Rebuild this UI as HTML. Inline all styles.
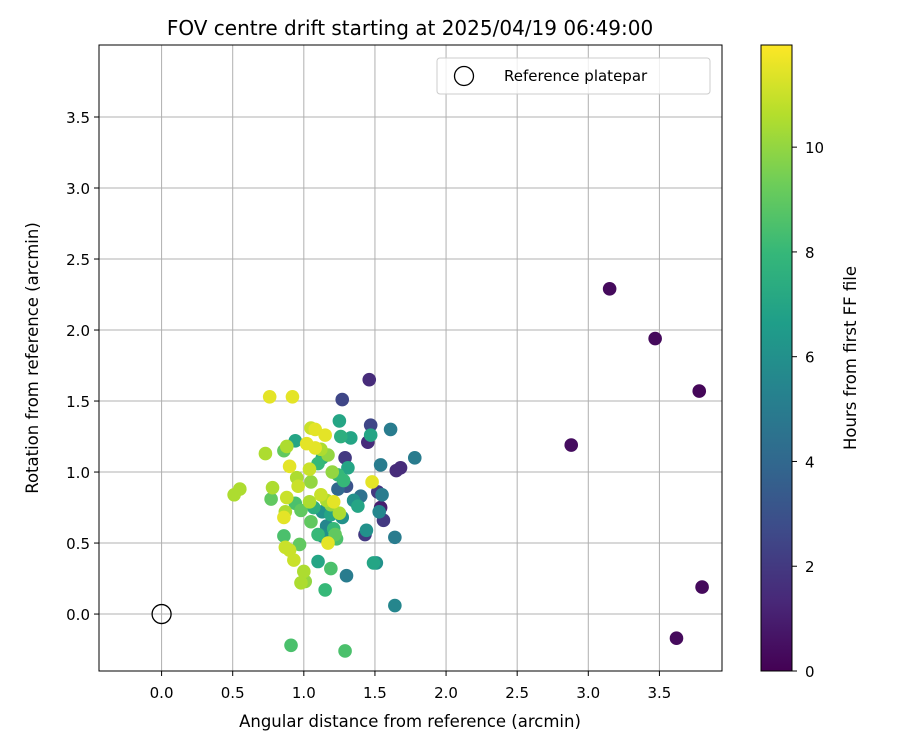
<!DOCTYPE html>
<html><head><meta charset="utf-8"><style>body{margin:0;background:#fff}svg{font-family:"DejaVu Sans","Liberation Sans",sans-serif}</style></head>
<body>
<svg id="c" width="900" height="750"></svg>
<script>
const xs=[3.15,3.47,3.78,2.88,3.80,3.62,1.46,1.27,0.76,0.92,1.47,1.25,1.61,1.45,1.47,1.33,1.26,1.29,1.54,1.78,1.65,1.68,1.08,1.05,1.15,0.94,0.86,0.88,1.02,1.08,1.12,1.17,1.10,1.13,0.73,0.90,0.55,0.51,0.78,0.77,0.95,0.96,1.04,1.05,1.20,1.24,1.28,1.31,1.35,1.40,1.30,1.24,1.48,1.52,1.55,1.54,1.53,1.56,1.38,1.44,1.43,1.64,0.88,0.87,0.86,0.94,0.98,1.04,1.07,1.12,1.16,1.19,1.21,1.13,1.19,1.25,1.27,1.16,1.21,1.22,1.23,1.17,1.05,1.10,1.13,0.86,0.90,0.87,0.93,0.97,1.10,1.19,1.30,1.15,1.00,0.98,1.01,1.64,1.49,1.51,0.91,1.29];
const ys=[2.29,1.94,1.57,1.19,0.19,-0.17,1.65,1.51,1.53,1.53,1.33,1.36,1.30,1.21,1.26,1.24,1.25,1.10,1.05,1.10,1.01,1.03,1.30,1.31,1.26,1.22,1.15,1.18,1.20,1.17,1.16,1.12,1.06,1.10,1.13,1.04,0.88,0.84,0.89,0.81,0.96,0.90,1.02,0.93,1.00,0.98,0.94,1.03,0.80,0.83,0.90,0.88,0.93,0.86,0.84,0.75,0.72,0.66,0.76,0.59,0.56,0.54,0.82,0.72,0.68,0.78,0.73,0.79,0.75,0.84,0.80,0.77,0.79,0.72,0.70,0.71,0.68,0.62,0.60,0.56,0.53,0.50,0.65,0.56,0.55,0.55,0.45,0.47,0.38,0.49,0.37,0.32,0.27,0.17,0.30,0.22,0.23,0.06,0.36,0.36,-0.22,-0.26];
const hrs=[0.3,0.3,0.2,0.4,0.3,0.3,1.5,2.5,11.5,11.5,2.5,7,5,1.5,7,7,7.5,2,5,5,1.5,1.5,11.5,11,11.5,7,9,10.5,11.5,11.5,10.5,10,8,7.5,10.5,11.5,10.5,10.5,10.5,9,10.5,11,11,10,10,8,8,7,6,4.5,3,4,11.5,2,5,1,5.5,2,7,6,2,5,11,10.5,11.5,8.5,9,10.5,7.5,11,10.5,10,11.5,6,7,10.5,6,5.5,8,9,8.5,11.5,9,8,6,8.5,11,11,11,9,7,8.5,5,8,10.5,10.5,10,5.5,7,6,8.5,8.5];
const xTicks=[0,0.5,1,1.5,2,2.5,3,3.5];
const yTicks=[0,0.5,1,1.5,2,2.5,3,3.5];
const cTicks=[0,2,4,6,8,10];
const L=99,R=722,T=45,B=671,xmin=-0.44,xmax=3.94,ymin=-0.401,ymax=4.007,cmax=11.95;
const X=v=>L+(v-xmin)/(xmax-xmin)*(R-L), Y=v=>B-(v-ymin)/(ymax-ymin)*(B-T);
const CT=45,CB=671,CY=v=>CB-v/cmax*(CB-CT);
const vir=[[68,1,84],[72,40,120],[62,74,137],[49,104,142],[38,130,142],[31,158,137],[53,183,121],[109,205,89],[180,222,44],[253,231,37]];
function col(h){let t=Math.max(0,Math.min(1,h/cmax))*9,i=Math.min(8,Math.floor(t)),f=t-i,a=vir[i],b=vir[i+1];return `rgb(${a.map((v,k)=>Math.round(v+(b[k]-v)*f)).join(',')})`;}
const s=document.getElementById('c');const NS='http://www.w3.org/2000/svg';
function el(t,a,p){const e=document.createElementNS(NS,t);for(const k in a)e.setAttribute(k,a[k]);(p||s).appendChild(e);return e;}
function tx(x,y,str,a){const e=el('text',Object.assign({x,y,'font-size':15,fill:'#000'},a));e.textContent=str;return e;}
xTicks.forEach(v=>{const g=el('line',{x1:X(v),x2:X(v),y1:T,y2:B,stroke:'#b0b0b0','stroke-width':1});

el('line',{x1:X(v),x2:X(v),y1:B,y2:B+5,stroke:'#000'});
const t=tx(X(v),B+27,v.toFixed(1),{'text-anchor':'middle'});
});
yTicks.forEach(v=>{const g=el('line',{x1:L,x2:R,y1:Y(v),y2:Y(v),stroke:'#b0b0b0','stroke-width':1});

el('line',{x1:L-5,x2:L,y1:Y(v),y2:Y(v),stroke:'#000'});
const t=tx(L-9,Y(v)+6,v.toFixed(1),{'text-anchor':'end'});
});
const idx=hrs.map((h,i)=>i).sort((a,b)=>hrs[a]-hrs[b]);
idx.forEach(i=>{const c=el('circle',{cx:X(xs[i]),cy:Y(ys[i]),r:6.8,fill:col(hrs[i])});
});
const ref=el('circle',{cx:X(0),cy:Y(0),r:9.5,fill:'none',stroke:'#000','stroke-width':1.3});

const fr=el('rect',{x:L,y:T,width:R-L,height:B-T,fill:'none',stroke:'#000','stroke-width':1});

const lg=el('g',{});
el('rect',{x:437,y:58,width:273,height:36,rx:3,fill:'#fff','fill-opacity':0.8,stroke:'#ccc'},lg);
el('circle',{cx:464,cy:76,r:9.5,fill:'none',stroke:'#000','stroke-width':1.3},lg);
const lt=tx(504,81,'Reference platepar',{'font-size':15});lg.appendChild(lt);
const ti=tx(410,35,'FOV centre drift starting at 2025/04/19 06:49:00',{'font-size':20,'text-anchor':'middle'});

const xl=tx(410,727,'Angular distance from reference (arcmin)',{'font-size':16.5,'text-anchor':'middle'});

const yl=tx(0,0,'Rotation from reference (arcmin)',{'font-size':16.5,'text-anchor':'middle',transform:`translate(38,${(T+B)/2}) rotate(-90)`});

const defs=el('defs',{});const gr=el('linearGradient',{id:'vg',x1:0,y1:1,x2:0,y2:0},defs);
vir.forEach((c,i)=>el('stop',{offset:i/9,'stop-color':`rgb(${c.join(',')})`},gr));
const cb=el('rect',{x:761,y:CT,width:31,height:CB-CT,fill:'url(#vg)',stroke:'#000','stroke-width':1});

cTicks.forEach(v=>{el('line',{x1:792,x2:797,y1:CY(v),y2:CY(v),stroke:'#000'});
const t=tx(805,CY(v)+6,String(v));});
const cl=tx(0,0,'Hours from first FF file',{'font-size':16.5,'text-anchor':'middle',transform:`translate(856,${(CT+CB)/2}) rotate(-90)`});

</script>
</body></html>
